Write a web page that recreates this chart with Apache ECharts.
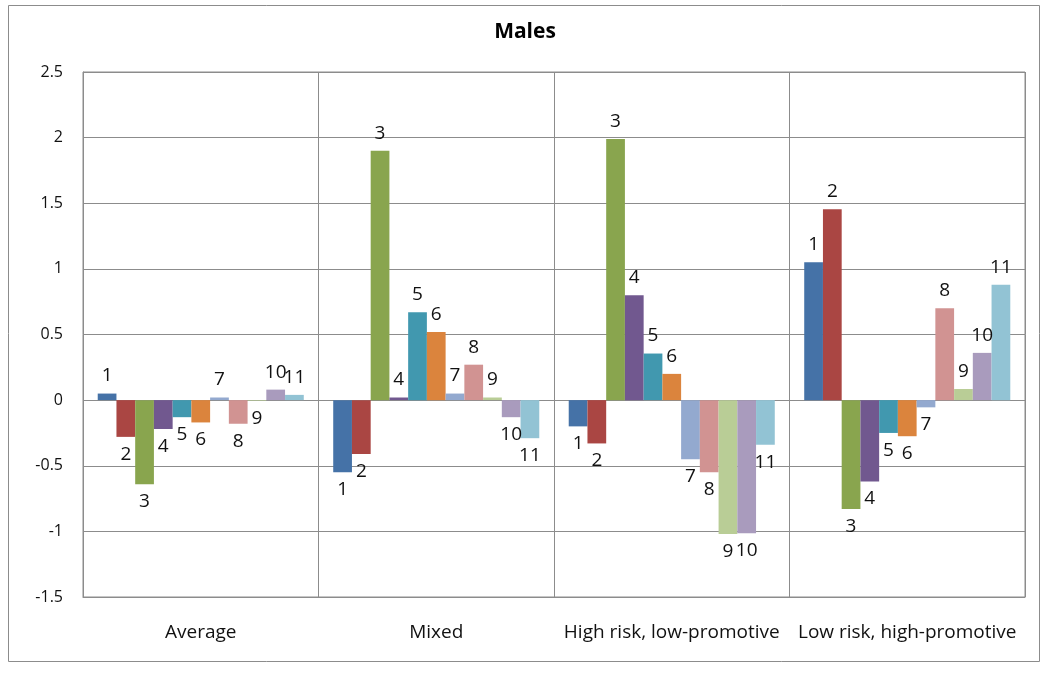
<!DOCTYPE html>
<html>
<head>
<meta charset="utf-8">
<script src="https://cdn.jsdelivr.net/npm/echarts@6/dist/echarts.min.js"></script>
<style>
  html, body { margin: 0; padding: 0; background: #fff; }
  #main { width: 1050px; height: 673px; }
</style>
</head>
<body>
<div id="main"></div>
<script type="text/javascript">
    // clusters on the x axis
    var categories = ['Average', 'Mixed', 'High risk, low-promotive', 'Low risk, high-promotive'];
    // one array per numbered series, values for the four clusters
    var s1 = [0.05, -0.55, -0.20, 1.05];
    var s2 = [-0.28, -0.41, -0.33, 1.455];
    var s3 = [-0.64, 1.90, 1.99, -0.83];
    var s4 = [-0.22, 0.02, 0.80, -0.62];
    var s5 = [-0.13, 0.67, 0.355, -0.25];
    var s6 = [-0.17, 0.52, 0.20, -0.275];
    var s7 = [0.02, 0.05, -0.45, -0.055];
    var s8 = [-0.18, 0.27, -0.55, 0.70];
    var s9 = [-0.005, 0.02, -1.02, 0.085];
    var s10 = [0.08, -0.13, -1.015, 0.36];
    var s11 = [0.04, -0.29, -0.34, 0.88];
    var seriesNames = ['1', '2', '3', '4', '5', '6', '7', '8', '9', '10', '11'];
    var seriesData = [s1, s2, s3, s4, s5, s6, s7, s8, s9, s10, s11];
    var colors = ['#4572A7', '#AA4643', '#89A54E', '#71588F', '#4198AF', '#DB843D',
                  '#93A9CF', '#D19392', '#B9CD96', '#A99BBD', '#92C3D4'];

    var font = '"Open Sans", "Liberation Sans", sans-serif';

    var myChart = echarts.init(document.getElementById('main'));

    var series = seriesData.map(function (vals, i) {
        return {
            name: seriesNames[i],
            type: 'bar',
            barGap: '0%',
            barCategoryGap: '12.5%',
            itemStyle: { color: colors[i] },
            data: vals.map(function (v) {
                return {
                    value: v,
                    label: { position: v >= 0 ? 'top' : 'bottom' }
                };
            }),
            label: {
                show: true,
                distance: 8,
                formatter: seriesNames[i],
                color: '#111',
                fontSize: 19,
                fontFamily: font
            }
        };
    });

    var option = {
        animation: false,
        backgroundColor: '#fff',
        title: {
            text: 'Males',
            left: 'center',
            top: 17,
            textStyle: { fontSize: 21, fontWeight: 'bold', fontFamily: font, color: '#000' }
        },
        graphic: [{
            type: 'rect',
            shape: { x: 8.5, y: 5.5, width: 1031, height: 656 },
            style: { fill: null, stroke: '#8c8c8c', lineWidth: 1 },
            silent: true
        }],
        grid: {
            left: 83, right: 25, top: 72, bottom: 76,
            show: true, borderColor: '#8c8c8c', borderWidth: 1
        },
        xAxis: {
            type: 'category',
            data: categories,
            axisLine: { onZero: false, lineStyle: { color: '#8c8c8c' } },
            axisTick: { show: false, interval: 0 },
            splitLine: { show: true, interval: 0, lineStyle: { color: '#8c8c8c' } },
            axisLabel: { interval: 0, margin: 26, fontSize: 19, color: '#111', fontFamily: font }
        },
        yAxis: {
            type: 'value',
            min: -1.5, max: 2.5, interval: 0.5,
            axisLine: { show: true, lineStyle: { color: '#8c8c8c' } },
            axisTick: { show: false },
            splitLine: { lineStyle: { color: '#8c8c8c' } },
            axisLabel: { margin: 20, fontSize: 16, color: '#111', fontFamily: font }
        },
        series: series
    };

    myChart.setOption(option);
</script>
</body>
</html>
